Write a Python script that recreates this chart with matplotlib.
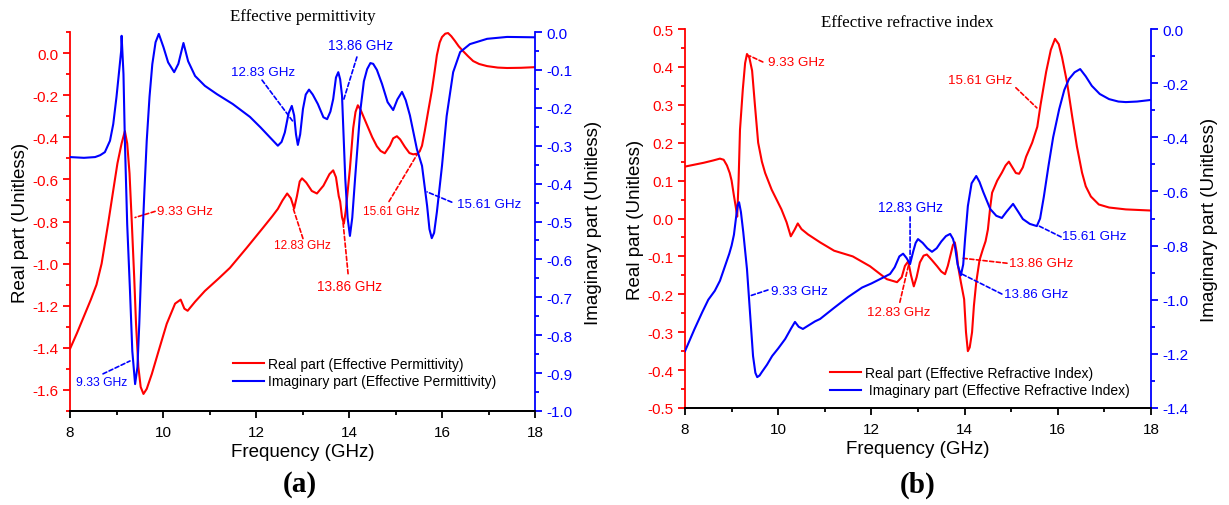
import matplotlib
matplotlib.use("Agg")
import matplotlib.pyplot as plt
from matplotlib.ticker import MultipleLocator

plt.rcParams['font.family'] = ['Liberation Sans', 'DejaVu Sans']
plt.rcParams['axes.unicode_minus'] = False

RED = '#ff0000'
BLUE = '#0000ff'

# ---- (a) effective permittivity ----
f_eps_re = [8.0, 8.15, 8.3, 8.45, 8.57, 8.68, 8.82, 8.93, 9.02, 9.11, 9.18, 9.23,
            9.28, 9.33, 9.38, 9.42, 9.47, 9.52, 9.58, 9.65, 9.76, 9.9, 10.08, 10.26,
            10.38, 10.46, 10.53, 10.69, 10.9, 11.2, 11.44, 11.8, 12.15, 12.35,
            12.47, 12.57, 12.67, 12.75, 12.82, 12.88, 12.94, 12.99, 13.08, 13.2,
            13.31, 13.45, 13.58, 13.66, 13.72, 13.78, 13.81, 13.85, 13.89, 13.93,
            13.97, 14.02, 14.09, 14.14, 14.19, 14.25, 14.39, 14.5, 14.6, 14.68,
            14.77, 14.88, 14.95, 15.03, 15.1, 15.2, 15.3, 15.38, 15.47, 15.52,
            15.57, 15.63, 15.7, 15.78, 15.84, 15.89, 15.95, 16.0, 16.07, 16.13,
            16.2, 16.28, 16.36, 16.45, 16.56, 16.67, 16.8, 16.97, 17.2, 17.4, 17.7,
            18.0]
eps_re = [-1.405, -1.33, -1.25, -1.17, -1.10, -1.0, -0.81, -0.652, -0.524, -0.429,
          -0.371, -0.429, -0.571, -0.81, -1.062, -1.286, -1.49, -1.586, -1.619,
          -1.595, -1.524, -1.419, -1.286, -1.19, -1.171, -1.214, -1.224, -1.181,
          -1.13, -1.07, -1.02, -0.925, -0.83, -0.775, -0.74, -0.70, -0.667, -0.69,
          -0.738, -0.68, -0.61, -0.595, -0.615, -0.655, -0.667, -0.63, -0.575,
          -0.557, -0.59, -0.68, -0.705, -0.78, -0.81, -0.75, -0.66, -0.548, -0.357,
          -0.28, -0.248, -0.27, -0.343, -0.40, -0.443, -0.465, -0.476, -0.44,
          -0.405, -0.395, -0.41, -0.445, -0.475, -0.481, -0.478, -0.467, -0.44,
          -0.37, -0.28, -0.18, -0.09, -0.01, 0.05, 0.076, 0.092, 0.095, 0.08, 0.057,
          0.032, 0.01, -0.015, -0.038, -0.052, -0.062, -0.069, -0.071, -0.07,
          -0.067]

f_eps_im = [8.0, 8.3, 8.54, 8.65, 8.75, 8.86, 8.93, 9.0, 9.05, 9.1, 9.11, 9.15,
            9.18, 9.23, 9.29, 9.34, 9.4, 9.45, 9.49, 9.54, 9.6, 9.65, 9.71, 9.77,
            9.84, 9.91, 10.01, 10.11, 10.24, 10.33, 10.44, 10.54, 10.69, 10.9,
            11.16, 11.5, 11.87, 12.1, 12.3, 12.47, 12.55, 12.62, 12.7, 12.77,
            12.82, 12.86, 12.9, 12.95, 13.01, 13.07, 13.14, 13.22, 13.33, 13.45,
            13.53, 13.6, 13.66, 13.72, 13.77, 13.81, 13.85, 13.92, 13.97, 14.02,
            14.07, 14.13, 14.24, 14.32, 14.39, 14.46, 14.52, 14.6, 14.71, 14.83,
            14.95, 15.04, 15.14, 15.22, 15.31, 15.46, 15.57, 15.68, 15.73, 15.78,
            15.83, 15.89, 16.0, 16.1, 16.24, 16.39, 16.6, 16.97, 17.4, 18.0]
eps_im = [-0.33, -0.332, -0.33, -0.325, -0.317, -0.287, -0.243, -0.171, -0.111,
          -0.05, -0.01, -0.111, -0.287, -0.507, -0.683, -0.842, -0.929, -0.884,
          -0.77, -0.594, -0.42, -0.287, -0.171, -0.085, -0.027, -0.005, -0.04,
          -0.08, -0.106, -0.084, -0.029, -0.077, -0.116, -0.142, -0.164, -0.19,
          -0.224, -0.252, -0.278, -0.30, -0.29, -0.265, -0.215, -0.195, -0.22,
          -0.27, -0.298, -0.27, -0.203, -0.165, -0.152, -0.165, -0.19, -0.225,
          -0.23, -0.21, -0.177, -0.12, -0.106, -0.125, -0.168, -0.388, -0.49,
          -0.538, -0.49, -0.388, -0.211, -0.13, -0.098, -0.082, -0.084, -0.1,
          -0.137, -0.185, -0.206, -0.178, -0.158, -0.18, -0.22, -0.309, -0.353,
          -0.459, -0.52, -0.544, -0.53, -0.475, -0.353, -0.222, -0.106, -0.053,
          -0.032, -0.018, -0.013, -0.014]

# ---- (b) effective refractive index ----
f_n_re = [8.0, 8.2, 8.4, 8.6, 8.75, 8.83, 8.9, 8.96, 9.0, 9.05, 9.09, 9.12, 9.15,
          9.18, 9.24, 9.29, 9.33, 9.38, 9.44, 9.5, 9.57, 9.65, 9.72, 9.86, 10.07,
          10.18, 10.27, 10.35, 10.42, 10.5, 10.64, 10.9, 11.2, 11.6, 11.97, 12.33,
          12.55, 12.65, 12.72, 12.79, 12.85, 12.91, 12.97, 13.04, 13.12, 13.19,
          13.3, 13.41, 13.5, 13.58, 13.64, 13.69, 13.75, 13.79, 13.83, 13.86,
          13.92, 13.99, 14.03, 14.07, 14.11, 14.16, 14.2, 14.25, 14.32, 14.39,
          14.45, 14.5, 14.55, 14.59, 14.7, 14.8, 14.88, 14.95, 15.05, 15.1, 15.17,
          15.25, 15.32, 15.45, 15.56, 15.63, 15.75, 15.85, 15.94, 16.02, 16.09,
          16.2, 16.31, 16.41, 16.52, 16.6, 16.71, 16.88, 17.1, 17.46, 18.0]
n_re = [0.137, 0.142, 0.147, 0.153, 0.158, 0.155, 0.14, 0.12, 0.10, 0.06, 0.03,
        0.005, 0.10, 0.234, 0.34, 0.41, 0.434, 0.425, 0.39, 0.30, 0.20, 0.15, 0.12,
        0.076, 0.024, -0.01, -0.047, -0.03, -0.013, -0.028, -0.042, -0.063, -0.085,
        -0.10, -0.126, -0.16, -0.168, -0.155, -0.125, -0.113, -0.15, -0.179,
        -0.155, -0.116, -0.098, -0.095, -0.11, -0.126, -0.14, -0.147, -0.125,
        -0.10, -0.07, -0.063, -0.09, -0.126, -0.168, -0.213, -0.30, -0.35, -0.34,
        -0.30, -0.23, -0.168, -0.11, -0.082, -0.06, -0.029, 0.03, 0.068, 0.10,
        0.121, 0.14, 0.15, 0.13, 0.12, 0.118, 0.135, 0.163, 0.20, 0.242, 0.30,
        0.387, 0.445, 0.474, 0.46, 0.426, 0.358, 0.268, 0.19, 0.121, 0.085, 0.058,
        0.037, 0.029, 0.024, 0.021]

f_n_im = [8.0, 8.1, 8.2, 8.37, 8.5, 8.64, 8.75, 8.86, 8.95, 9.0, 9.05, 9.1, 9.13,
          9.16, 9.2, 9.25, 9.33, 9.4, 9.46, 9.51, 9.55, 9.6, 9.65, 9.76, 9.87,
          10.0, 10.15, 10.28, 10.36, 10.44, 10.53, 10.65, 10.79, 10.9, 11.2, 11.5,
          11.8, 12.0, 12.23, 12.4, 12.5, 12.6, 12.68, 12.75, 12.83, 12.9, 12.95,
          13.0, 13.1, 13.2, 13.3, 13.4, 13.5, 13.6, 13.69, 13.75, 13.79, 13.85,
          13.92, 13.97, 14.01, 14.07, 14.15, 14.25, 14.32, 14.4, 14.55, 14.68,
          14.8, 14.9, 15.04, 15.15, 15.25, 15.4, 15.55, 15.62, 15.7, 15.8, 15.9,
          16.03, 16.14, 16.24, 16.36, 16.48, 16.6, 16.73, 16.9, 17.1, 17.3, 17.46,
          17.7, 18.0]
n_im = [-1.19, -1.15, -1.11, -1.046, -1.0, -0.967, -0.93, -0.875, -0.83, -0.80,
        -0.76, -0.69, -0.65, -0.64, -0.676, -0.75, -0.887, -1.06, -1.208, -1.27,
        -1.286, -1.28, -1.267, -1.24, -1.208, -1.18, -1.145, -1.105, -1.082, -1.1,
        -1.108, -1.095, -1.08, -1.071, -1.03, -0.99, -0.955, -0.94, -0.92, -0.905,
        -0.88, -0.84, -0.83, -0.845, -0.868, -0.82, -0.79, -0.776, -0.79, -0.81,
        -0.823, -0.81, -0.785, -0.765, -0.757, -0.775, -0.80, -0.87, -0.91, -0.87,
        -0.776, -0.654, -0.57, -0.543, -0.565, -0.602, -0.665, -0.69, -0.698,
        -0.675, -0.646, -0.675, -0.702, -0.72, -0.728, -0.70, -0.62, -0.506,
        -0.40, -0.296, -0.225, -0.185, -0.16, -0.148, -0.175, -0.21, -0.24,
        -0.259, -0.268, -0.27, -0.268, -0.262]

# annotation: text, axis ('L' real / 'R' imaginary), point, line end, text pos, ha, size
notes_a = [
    ("9.33 GHz", 'L', (9.40, -0.781), (9.83, -0.752), (9.87, -0.752), 'left', 9.5),
    ("9.33 GHz", 'R', (9.29, -0.868), (8.71, -0.902), (8.68, -0.923), 'center', 8.7),
    ("12.83 GHz", 'R', (12.80, -0.237), (12.13, -0.127), (12.15, -0.106), 'center', 9.6),
    ("12.83 GHz", 'L', (12.80, -0.738), (13.01, -0.881), (13.0, -0.91), 'center', 8.6),
    ("13.86 GHz", 'R', (13.89, -0.177), (14.17, -0.066), (14.25, -0.034), 'center', 9.8),
    ("13.86 GHz", 'L', (13.87, -0.80), (13.98, -1.048), (14.01, -1.105), 'center', 9.8),
    ("15.61 GHz", 'L', (15.48, -0.476), (14.86, -0.705), (14.90, -0.752), 'center', 8.5),
    ("15.61 GHz", 'R', (15.68, -0.422), (16.21, -0.449), (16.32, -0.454), 'left', 9.6),
]
notes_b = [
    ("9.33 GHz", 'L', (9.39, 0.429), (9.67, 0.413), (9.78, 0.413), 'left', 9.7),
    ("9.33 GHz", 'R', (9.39, -0.986), (9.78, -0.964), (9.85, -0.968), 'left', 9.7),
    ("12.83 GHz", 'R', (12.83, -0.868), (12.83, -0.694), (12.84, -0.658), 'center', 9.8),
    ("12.83 GHz", 'L', (12.81, -0.116), (12.61, -0.221), (12.58, -0.247), 'center', 9.5),
    ("13.86 GHz", 'L', (13.97, -0.105), (14.91, -0.118), (14.95, -0.118), 'left', 9.6),
    ("13.86 GHz", 'R', (13.94, -0.905), (14.80, -0.979), (14.85, -0.979), 'left', 9.6),
    ("15.61 GHz", 'R', (15.60, -0.728), (16.07, -0.768), (16.09, -0.765), 'left', 9.7),
    ("15.61 GHz", 'L', (15.55, 0.292), (15.10, 0.345), (14.33, 0.366), 'center', 9.6),
]


def draw_panel(rect, f_re, y_re, f_im, y_im, ylim_l, ylim_r, steps_l, steps_r,
               labels, notes, leg_anchor):
    ax = fig.add_axes(rect)
    ax2 = ax.twinx()
    l1, = ax.plot(f_re, y_re, color=RED, lw=1.5)
    l2, = ax2.plot(f_im, y_im, color=BLUE, lw=1.5)
    ax.set_xlim(8, 18)
    ax.set_ylim(*ylim_l)
    ax2.set_ylim(*ylim_r)
    ax.xaxis.set_major_locator(MultipleLocator(2))
    ax.xaxis.set_minor_locator(MultipleLocator(1))
    ax.yaxis.set_major_locator(MultipleLocator(steps_l[0]))
    ax.yaxis.set_minor_locator(MultipleLocator(steps_l[1]))
    ax2.yaxis.set_major_locator(MultipleLocator(steps_r[0]))
    ax2.yaxis.set_minor_locator(MultipleLocator(steps_r[1]))
    ax.yaxis.set_major_formatter('{x:.1f}')
    ax2.yaxis.set_major_formatter('{x:.1f}')
    for a in (ax, ax2):
        a.spines['top'].set_visible(False)
        for s in a.spines.values():
            s.set_linewidth(1.3)
    ax.spines['left'].set_color(RED)
    ax2.spines['right'].set_color(BLUE)
    ax2.spines['left'].set_visible(False)
    ax.spines['right'].set_visible(False)
    ax.tick_params(axis='x', which='major', length=5, width=1.3, labelsize=11, pad=5)
    ax.tick_params(axis='x', which='minor', length=3, width=1.3)
    ax.tick_params(axis='y', which='major', length=5, width=1.3, colors=RED, labelsize=11)
    ax.tick_params(axis='y', which='minor', length=3, width=1.3, colors=RED)
    ax2.tick_params(axis='y', which='major', length=5, width=1.3, colors=BLUE, labelsize=11)
    ax2.tick_params(axis='y', which='minor', length=3, width=1.3, colors=BLUE)
    ax.set_xlabel('Frequency (GHz)', fontsize=13.5, labelpad=3)
    ax.set_ylabel('Real part (Unitless)', fontsize=13.5, labelpad=2)
    ax2.set_ylabel('Imaginary part (Unitless)', fontsize=13.5, labelpad=9)
    for text, side, p0, p1, tp, ha, size in notes:
        a = ax if side == 'L' else ax2
        c = RED if side == 'L' else BLUE
        a.annotate('', xy=p0, xytext=p1,
                   arrowprops=dict(arrowstyle='-', color=c, lw=1.2,
                                   linestyle=(0, (2.5, 1.5)), shrinkA=0, shrinkB=0))
        a.text(tp[0], tp[1], text, color=c, fontsize=size, ha=ha, va='center')
    ax2.legend([l1, l2], labels, loc='upper left', bbox_to_anchor=leg_anchor,
               bbox_transform=fig.transFigure, frameon=False, fontsize=10,
               borderpad=0, borderaxespad=0, handlelength=2.2, handletextpad=0.35,
               labelspacing=0.25)
    return ax


fig = plt.figure(figsize=(12.29, 5.06), dpi=100)
W, H = 1229, 506

draw_panel([70 / W, 1 - 412 / H, 465 / W, 379 / H], f_eps_re, eps_re, f_eps_im, eps_im,
           (-1.7, 0.1), (-1.0, 0.0), (0.2, 0.1), (0.1, 0.05),
           ['Real part (Effective Permittivity)', 'Imaginary part (Effective Permittivity)'],
           notes_a, (233 / W, 1 - 358 / H))
draw_panel([685 / W, 1 - 409 / H, 466 / W, 379 / H], f_n_re, n_re, f_n_im, n_im,
           (-0.5, 0.5), (-1.4, 0.0), (0.1, 0.05), (0.2, 0.1),
           ['Real part (Effective Refractive Index)', ' Imaginary part (Effective Refractive Index)'],
           notes_b, (830 / W, 1 - 367 / H))

fig.text(303 / W, 1 - 17 / H, 'Effective permittivity', family='Liberation Serif',
         fontsize=12.2, ha='center', va='center')
fig.text(907 / W, 1 - 23 / H, 'Effective refractive index', family='Liberation Serif',
         fontsize=12.2, ha='center', va='center')
fig.text(300 / W, 1 - 485 / H, '(a)', family='Liberation Serif', weight='bold',
         fontsize=21, ha='center', va='center')
fig.text(918 / W, 1 - 485 / H, '(b)', family='Liberation Serif', weight='bold',
         fontsize=21, ha='center', va='center')

fig.savefig('out.png', dpi=100)
